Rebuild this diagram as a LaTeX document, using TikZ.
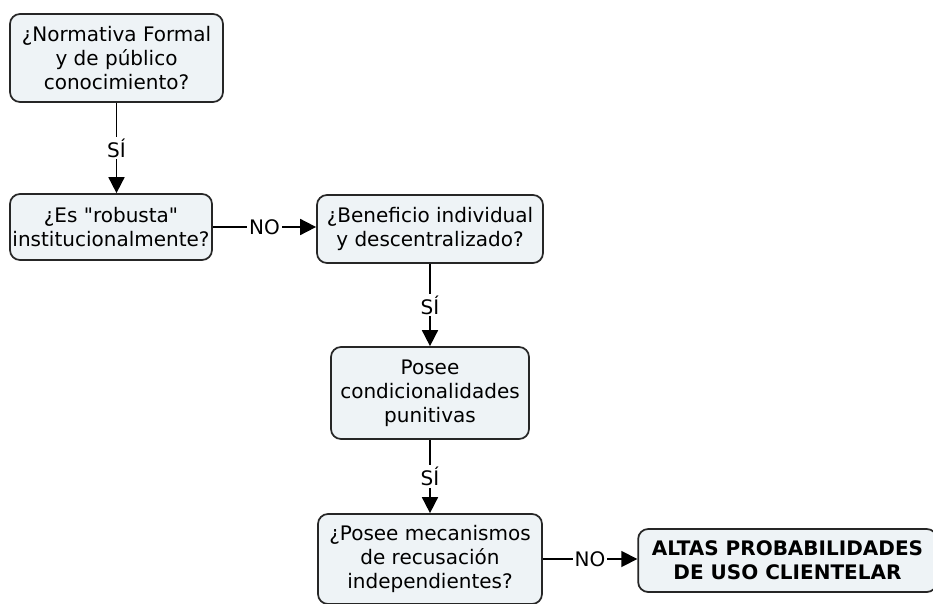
\documentclass[tikz,border=0pt]{standalone}
\usepackage{fontspec}
\setmainfont{DejaVu Sans}[Ligatures=TeXOff]
\usetikzlibrary{arrows.meta}
\definecolor{boxfill}{HTML}{EEF3F6}

\begin{document}
\begin{tikzpicture}[x=0.75pt, y=-0.75pt,
    box/.style={draw=black!85, line width=1.3pt, fill=boxfill, rounded corners=7.5pt,
      align=center, inner sep=0pt, font=\fontsize{15}{18}\selectfont},
    lbl/.style={fill=white, inner sep=1.5pt, font=\fontsize{15}{18}\selectfont},
    link/.style={line width=1.3pt, -{Triangle[length=12pt,width=12pt]}}]
  \useasboundingbox (0,0) rectangle (933,604);
  \clip (0,0) rectangle (933,604);

  \node[box, minimum width=159.75pt, minimum height=66pt] (formal) at (116.5,58)
    {¿Normativa Formal\\y de público\\conocimiento?};
  \node[box, minimum width=151.5pt, minimum height=49.5pt] (robusta) at (111,227)
    {¿Es "robusta"\\institucionalmente?};
  \node[box, minimum width=169.5pt, minimum height=51pt] (benef) at (430,229)
    {¿Beneficio individual\\y descentralizado?};
  \node[box, minimum width=148.5pt, minimum height=69pt] (punit) at (430,393)
    {Posee\\condicionalidades\\punitivas};
  \node[box, minimum width=168pt, minimum height=67.5pt] (recus) at (430,559)
    {¿Posee mecanismos\\de recusación\\independientes?};
  \node[box, minimum width=224pt, minimum height=47.25pt,
    font=\fontsize{15}{18}\selectfont\bfseries] (altas) at (787.5,560.5)
    {ALTAS PROBABILIDADES\\DE USO CLIENTELAR};

  \draw[link] (formal.south) -- node[lbl]{SÍ} (formal.south |- robusta.north);
  \draw[link] (robusta.east) -- node[lbl]{NO} (robusta.east -| benef.west);
  \draw[link] (benef.south) -- node[lbl]{SÍ} (punit.north);
  \draw[link] (punit.south) -- node[lbl]{SÍ} (recus.north);
  \draw[link] (recus.east) -- node[lbl]{NO} (recus.east -| altas.west);
\end{tikzpicture}
\end{document}
